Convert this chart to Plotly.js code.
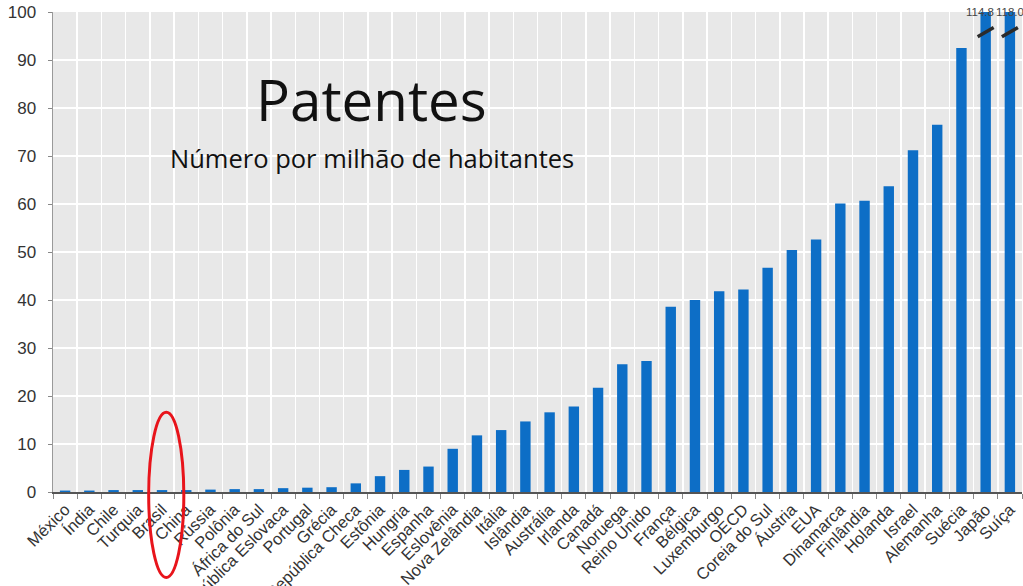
<!DOCTYPE html>
<html>
<head>
<meta charset="utf-8">
<script src="https://cdn.plot.ly/plotly-3.0.1.min.js"></script>
<style>html,body{margin:0;padding:0;background:#fff;}#chart{width:1023px;height:586px;}</style>
</head>
<body>
<div id="chart"></div>
<script>
// Data
const countries = ["México","Índia","Chile","Turquia","Brasil","China","Rússia","Polônia","África do Sul","República Eslovaca","Portugal","Grécia","República Checa","Estônia","Hungria","Espanha","Eslovênia","Nova Zelândia","Itália","Islândia","Austrália","Irlanda","Canadá","Noruega","Reino Unido","França","Bélgica","Luxemburgo","OECD","Coreia do Sul","Áustria","EUA","Dinamarca","Finlândia","Holanda","Israel","Alemanha","Suécia","Japão","Suíça"];
const patents = [0.3,0.3,0.4,0.4,0.4,0.4,0.5,0.6,0.6,0.8,0.9,1.0,1.8,3.3,4.6,5.3,9.0,11.8,12.9,14.7,16.6,17.8,21.7,26.6,27.3,38.6,40.0,41.8,42.2,46.7,50.4,52.6,60.1,60.7,63.7,71.2,76.5,92.5,114.8,118.0];
const yTicks = [0,10,20,30,40,50,60,70,80,90,100];
const titleText = "Patentes";
const subtitleText = "Número por milhão de habitantes";

// Styling / layout constants
const yMax = 100;
const breakY = 95.8;
const barColor = "#0d6ec6";

const over = patents.map((v,i)=>({i, c: countries[i], v})).filter(d => d.v > yMax);

const traces = [
  {
    type: "bar",
    x: countries,
    y: patents,
    marker: {color: barColor},
    width: 0.43,
    hoverinfo: "x+y",
    showlegend: false
  }
];

const annotations = [
  {xref: "paper", yref: "paper", x: 0.329, y: 0.817, text: titleText, showarrow: false,
   font: {family: "Open Sans", size: 56.5, color: "#111"}, xanchor: "center", yanchor: "middle"},
  {xref: "paper", yref: "paper", x: 0.329, y: 0.695, text: subtitleText, showarrow: false,
   font: {family: "Open Sans", size: 25.5, color: "#111"}, xanchor: "center", yanchor: "middle"}
].concat(over.map((d, k) => ({
  x: d.c, y: yMax, xref: "x", yref: "y", text: d.v.toFixed(1), showarrow: false,
  xshift: k < over.length - 1 ? -6 : 0,
  yanchor: "middle", font: {family: "Liberation Sans", size: 11.5, color: "#444"}
})));

const breakShapes = over.map(d => ({
  type: "line", xref: "x", yref: "y",
  x0: d.i - 0.33, x1: d.i + 0.33, y0: breakY - 0.95, y1: breakY + 0.95,
  line: {color: "#2b2b2b", width: 3.5}
}));

const layout = {
  width: 1023, height: 586,
  margin: {l: 53, r: 1, t: 12, b: 94},
  paper_bgcolor: "#ffffff",
  plot_bgcolor: "#e8e8e8",
  bargap: 0.57,
  xaxis: {
    type: "category",
    range: [-0.5, countries.length - 0.5],
    tickangle: -45,
    tickson: "boundaries",
    ticks: "outside", ticklen: 5, tickcolor: "#888",
    showgrid: true, gridcolor: "#ffffff", gridwidth: 1.5,
    showline: true, linecolor: "#555", linewidth: 1.5,
    tickfont: {family: "Liberation Sans", size: 16.5, color: "#333"},
    automargin: false, fixedrange: true
  },
  yaxis: {
    range: [0, yMax],
    tickvals: yTicks,
    ticks: "outside", ticklen: 4, tickcolor: "#888",
    showgrid: true, gridcolor: "#ffffff", gridwidth: 1.5,
    showline: true, linecolor: "#999", linewidth: 1.5,
    zeroline: false,
    tickfont: {family: "Liberation Sans", size: 17, color: "#333"},
    ticklabelstandoff: 8,
    automargin: false, fixedrange: true
  },
  annotations: annotations,
  shapes: breakShapes.concat([
    {type: "circle", xref: "x", yref: "paper", x0: 3.45, x1: 4.9, y0: -0.178, y1: 0.166,
     line: {color: "#e8141b", width: 3}, fillcolor: "rgba(0,0,0,0)"}
  ])
};

Plotly.newPlot("chart", traces, layout, {displayModeBar: false, staticPlot: true});
</script>
</body>
</html>
